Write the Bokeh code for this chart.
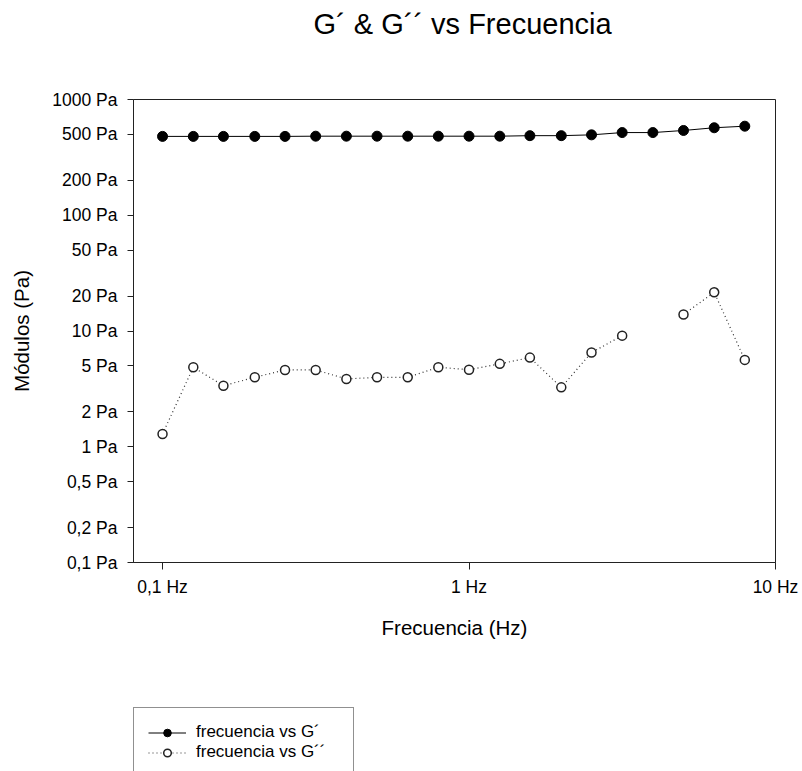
from bokeh.plotting import figure
from bokeh.models import FixedTicker, Range1d, Legend, LegendItem, ColumnDataSource
from bokeh.layouts import column
from bokeh.embed import file_html
from bokeh.resources import INLINE

freq = [0.1, 0.126, 0.158, 0.2, 0.251, 0.316, 0.398, 0.501, 0.631, 0.794,
        1.0, 1.26, 1.58, 2.0, 2.51, 3.16, 3.98, 5.01, 6.31, 7.94]
g_prime = [480, 480, 480, 480, 480, 482, 482, 482, 482, 482,
           482, 482, 487, 487, 495, 518, 518, 540, 570, 588]
g_dprime = [1.29, 4.86, 3.37, 3.98, 4.61, 4.61, 3.85, 3.98, 3.98, 4.86,
            4.63, 5.20, 5.89, 3.26, 6.51, 9.12, float("nan"), 13.9, 21.6, 5.63]

y_ticks = [0.1, 0.2, 0.5, 1, 2, 5, 10, 20, 50, 100, 200, 500, 1000]
y_labels = ["0,1 Pa", "0,2 Pa", "0,5 Pa", "1 Pa", "2 Pa", "5 Pa", "10 Pa", "20 Pa",
            "50 Pa", "100 Pa", "200 Pa", "500 Pa", "1000 Pa"]
x_ticks = [0.1, 1, 10]
x_labels = ["0,1 Hz", "1 Hz", "10 Hz"]
series_labels = ["frecuencia vs G\u00b4", "frecuencia vs G\u00b4\u00b4"]
title_text = "G\u00b4 & G\u00b4\u00b4 vs Frecuencia"

FONT = "Liberation Sans"


def blank(height, **kw):
    f = figure(width=802, height=height, x_range=Range1d(0, 1), y_range=Range1d(0, 1),
               output_backend="svg", toolbar_location=None,
               min_border_left=0, min_border_right=0, min_border_top=0,
               min_border_bottom=0, **kw)
    f.axis.visible = False
    f.grid.visible = False
    f.outline_line_color = None
    return f


# title panel
tf = blank(50, title=title_text)
tf.title.text_font = FONT
tf.title.text_font_size = "29px"
tf.title.text_font_style = "normal"
tf.title.align = "left"
tf.title.offset = 180
tf.title.text_color = "#000000"
tf.title.standoff = 10

# main chart
p = figure(width=802, height=650, x_axis_type="log", y_axis_type="log",
           x_range=Range1d(0.0804, 10.0), y_range=Range1d(0.1, 1000),
           output_backend="svg", toolbar_location=None,
           min_border_left=133, min_border_right=27, min_border_top=49,
           min_border_bottom=138)

p.xgrid.visible = False
p.ygrid.visible = False
p.outline_line_color = "#222222"
p.outline_line_width = 1

for ax in (p.xaxis[0], p.yaxis[0]):
    ax.axis_line_color = "#222222"
    ax.major_tick_line_color = "#222222"
    ax.minor_tick_line_color = None
    ax.major_tick_in = 0
    ax.major_label_text_font = FONT
    ax.major_label_text_font_size = "17.5px"
    ax.major_label_text_color = "#000000"
    ax.axis_label_text_font = FONT
    ax.axis_label_text_font_size = "20.5px"
    ax.axis_label_text_font_style = "normal"
    ax.axis_label_text_color = "#000000"

p.xaxis.ticker = FixedTicker(ticks=x_ticks, minor_ticks=[])
p.xaxis.major_label_overrides = {t: l for t, l in zip(x_ticks, x_labels)}
p.xaxis.major_tick_out = 7
p.xaxis.major_label_standoff = 7
p.xaxis.axis_label = "Frecuencia (Hz)"
p.xaxis.axis_label_standoff = 16

p.yaxis.ticker = FixedTicker(ticks=y_ticks, minor_ticks=[])
p.yaxis.major_label_overrides = {t: l for t, l in zip(y_ticks, y_labels)}
p.yaxis.major_tick_out = 6
p.yaxis.major_label_standoff = 10
p.yaxis.axis_label = "Módulos (Pa)"
p.yaxis.axis_label_standoff = 16

src = ColumnDataSource(dict(f=freq, g1=g_prime, g2=g_dprime))

LINE1 = dict(line_color="#000000", line_width=1)
MARK1 = dict(size=10, fill_color="#000000", line_color="#000000")
LINE2 = dict(line_color="#333333", line_width=1.2, line_dash="1 3")
MARK2 = dict(size=9, fill_color="#ffffff", line_color="#222222", line_width=1.5)

p.line("f", "g1", source=src, **LINE1)
p.scatter("f", "g1", source=src, **MARK1)
p.line("f", "g2", source=src, **LINE2)
p.scatter("f", "g2", source=src, **MARK2)

# legend panel below the chart (its renderers hold points outside the view)
lg = blank(71)
off = ColumnDataSource(dict(x=[-10, -11], y=[-10, -11]))
a1 = lg.line("x", "y", source=off, **LINE1)
b1 = lg.scatter("x", "y", source=off, **MARK1)
a2 = lg.line("x", "y", source=off, **LINE2)
b2 = lg.scatter("x", "y", source=off, **MARK2)

legend = Legend(items=[
    LegendItem(label=series_labels[0], renderers=[a1, b1]),
    LegendItem(label=series_labels[1], renderers=[a2, b2]),
], location=(0, -6))
legend.border_line_color = "#222222"
legend.border_line_width = 1
legend.background_fill_color = "#ffffff"
legend.background_fill_alpha = 1
legend.label_text_font = FONT
legend.label_text_font_size = "17px"
legend.label_text_color = "#000000"
legend.glyph_width = 38
legend.glyph_height = 19
legend.label_height = 19
legend.label_width = 143
legend.label_standoff = 10
legend.spacing = 0
legend.padding = 14
legend.margin = 0
lg.add_layout(legend, "center")

layout = column(tf, p, lg, spacing=0)
open("out.html", "w").write(file_html(layout, INLINE))
